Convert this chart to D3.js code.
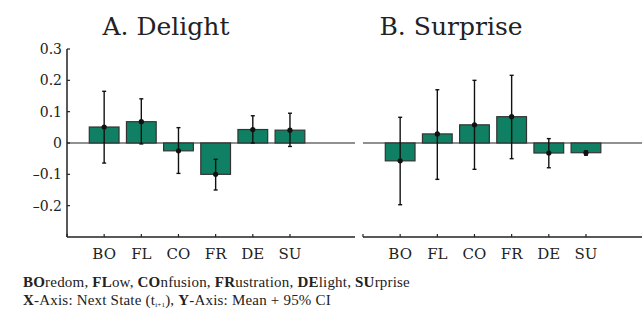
<!DOCTYPE html>
<html>
<head>
<meta charset="utf-8">
<script src="https://cdn.jsdelivr.net/npm/d3@7"></script>
<style>
  body { margin: 0; background: #fff; }
  svg { display: block; }
  text { font-family: "DejaVu Serif", serif; fill: #222; }
  text.note { font-family: "Liberation Serif", serif; font-size: 15px; letter-spacing: 0.2px; }
</style>
</head>
<body>
<svg id="chart" width="642" height="314"></svg>
<script>
// next state categories
const states = ["BO", "FL", "CO", "FR", "DE", "SU"];

// A. Delight - mean and 95% CI
const delightMean = [0.051, 0.068, -0.025, -0.100, 0.043, 0.041];
const delightLo = [-0.064, -0.003, -0.097, -0.150, 0.000, -0.011];
const delightHi = [0.165, 0.141, 0.049, -0.052, 0.087, 0.095];

// B. Surprise - mean and 95% CI
const surpriseMean = [-0.057, 0.029, 0.058, 0.084, -0.032, -0.031];
const surpriseLo = [-0.197, -0.116, -0.084, -0.050, -0.079, -0.039];
const surpriseHi = [0.082, 0.170, 0.200, 0.216, 0.014, -0.025];

const yTicks = [0.3, 0.2, 0.1, 0, -0.1, -0.2];

let svg = d3.select("#chart");

let y = d3.scaleLinear()
    .domain([-0.3, 0.3])
    .range([237, 49]);

const barColor = "#0f8063";

function drawPanel(x0, titleX, title, means, lo, hi, showYAxis) {
    let x = d3.scaleLinear()
        .domain([0, 7.75])
        .range([x0, x0 + 288]);
    let barW = x(0.8) - x(0);

    let g = svg.append("g");

    g.append("text")
        .attr("x", titleX)
        .attr("y", 35)
        .attr("text-anchor", "middle")
        .attr("font-size", 25)
        .text(title);

    // zero line
    g.append("line")
        .attr("x1", x(0)).attr("x2", x(7.75))
        .attr("y1", y(0)).attr("y2", y(0))
        .attr("stroke", "#222").attr("stroke-width", 1.2);

    // bottom axis
    g.append("line")
        .attr("x1", x(0)).attr("x2", x(7.75))
        .attr("y1", y(-0.3)).attr("y2", y(-0.3))
        .attr("stroke", "#222").attr("stroke-width", 1.5);

    let ticksX = [0].concat(d3.range(1, 7));
    g.selectAll(".xt")
        .data(ticksX)
        .enter().append("line")
        .attr("x1", d => x(d)).attr("x2", d => x(d))
        .attr("y1", y(-0.3)).attr("y2", y(-0.3) - 3)
        .attr("stroke", "#222").attr("stroke-width", 1.2);

    g.selectAll(".xl")
        .data(states)
        .enter().append("text")
        .attr("x", (d, i) => x(i + 1))
        .attr("y", 259)
        .attr("text-anchor", "middle")
        .attr("font-size", 15)
        .text(d => d);

    if (showYAxis) {
        g.append("line")
            .attr("x1", x(0)).attr("x2", x(0))
            .attr("y1", y(0.3)).attr("y2", y(-0.3))
            .attr("stroke", "#222").attr("stroke-width", 1.5);
        g.selectAll(".yt")
            .data(yTicks)
            .enter().append("line")
            .attr("x1", x(0)).attr("x2", x(0) + 3)
            .attr("y1", d => y(d)).attr("y2", d => y(d))
            .attr("stroke", "#222").attr("stroke-width", 1.2);
        g.selectAll(".yl")
            .data(yTicks)
            .enter().append("text")
            .attr("x", x(0) - 5)
            .attr("y", d => y(d))
            .attr("dy", "0.35em")
            .attr("text-anchor", "end")
            .attr("font-size", 14)
            .text(d => d === 0 ? "0" : (d < 0 ? "\u2013" + Math.abs(d).toFixed(1) : d.toFixed(1)));
    }

    // bars
    g.selectAll(".bar")
        .data(means)
        .enter().append("rect")
        .attr("x", (d, i) => x(i + 1) - barW / 2)
        .attr("y", d => y(Math.max(0, d)))
        .attr("width", barW)
        .attr("height", d => Math.abs(y(d) - y(0)))
        .attr("fill", barColor)
        .attr("stroke", "#333")
        .attr("stroke-width", 1.2);

    // error bars
    let err = g.selectAll(".err")
        .data(means)
        .enter().append("g");

    err.append("line")
        .attr("x1", (d, i) => x(i + 1)).attr("x2", (d, i) => x(i + 1))
        .attr("y1", (d, i) => y(lo[i])).attr("y2", (d, i) => y(hi[i]))
        .attr("stroke", "#111").attr("stroke-width", 1.4);
    err.append("line")
        .attr("x1", (d, i) => x(i + 1) - 2).attr("x2", (d, i) => x(i + 1) + 2)
        .attr("y1", (d, i) => y(lo[i])).attr("y2", (d, i) => y(lo[i]))
        .attr("stroke", "#111").attr("stroke-width", 1.4);
    err.append("line")
        .attr("x1", (d, i) => x(i + 1) - 2).attr("x2", (d, i) => x(i + 1) + 2)
        .attr("y1", (d, i) => y(hi[i])).attr("y2", (d, i) => y(hi[i]))
        .attr("stroke", "#111").attr("stroke-width", 1.4);
    err.append("circle")
        .attr("cx", (d, i) => x(i + 1))
        .attr("cy", d => y(d))
        .attr("r", 2.6)
        .attr("fill", "#111");
}

drawPanel(67, 166, "A. Delight", delightMean, delightLo, delightHi, true);
drawPanel(363, 451, "B. Surprise", surpriseMean, surpriseLo, surpriseHi, false);

// footnote
let line1 = svg.append("text").attr("class", "note").attr("x", 23).attr("y", 287);
[["BO", "redom, "], ["FL", "ow, "], ["CO", "nfusion, "], ["FR", "ustration, "], ["DE", "light, "], ["SU", "rprise"]]
    .forEach(p => {
        line1.append("tspan").attr("font-weight", "bold").text(p[0]);
        line1.append("tspan").text(p[1]);
    });

let line2 = svg.append("text").attr("class", "note").attr("x", 23).attr("y", 305);
line2.append("tspan").attr("font-weight", "bold").text("X");
line2.append("tspan").text("-Axis: Next State (t");
line2.append("tspan").attr("font-size", 7).attr("dy", 2).text("i+1");
line2.append("tspan").attr("dy", -2).text("), ");
line2.append("tspan").attr("font-weight", "bold").text("Y");
line2.append("tspan").text("-Axis: Mean + 95% CI");
</script>
</body>
</html>
